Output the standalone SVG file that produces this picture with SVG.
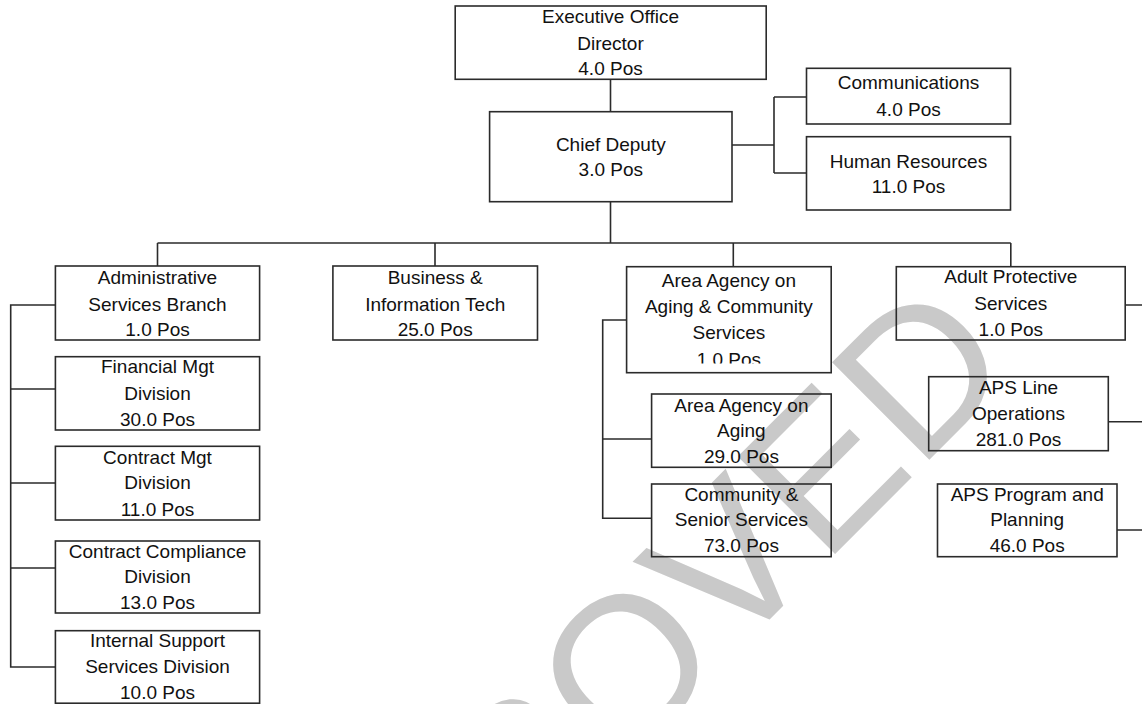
<svg xmlns="http://www.w3.org/2000/svg" width="1142" height="704" viewBox="0 0 1142 704">
<style>
.box{fill:none;stroke:#2b2b2b;stroke-width:1.6}
.ln{fill:none;stroke:#2b2b2b;stroke-width:1.6}
.t{font-family:"Liberation Sans",Arial,sans-serif;font-size:19px;fill:#111;text-anchor:middle}
.wm{font-family:"Liberation Sans",Arial,sans-serif;font-size:200px;fill:#c9c9c9;text-anchor:middle}
</style>
<defs>
<clipPath id="clipAaacs"><rect x="627" y="267" width="204" height="96.5"/></clipPath>
</defs>
<rect width="1142" height="704" fill="#fff"/>
<text class="wm" x="627" y="762" transform="rotate(-45 627 762)">APPROVED</text>

<g id="connectors">
<path class="ln" d="M610.5 79 V112"/>
<path class="ln" d="M732 145 H774 M774 97 V173 M774 97 H806.5 M774 173 H806.5"/>
<path class="ln" d="M610.5 202 V243 M157.5 243 H1010.8 M157.5 243 V266 M435 243 V266 M733.3 243 V267 M1010.8 243 V266"/>
<path class="ln" d="M55.4 305 H10.7 V667 H55.4 M10.7 389 H55.4 M10.7 483 H55.4 M10.7 568 H55.4"/>
<path class="ln" d="M627 320 H602.7 V518.3 H651.6 M602.7 439 H651.6"/>
<path class="ln" d="M1125.2 305 H1142 M1108.3 421.7 H1142 M1117 530 H1142"/>
</g>

<g id="exec"><rect class="box" x="455.2" y="6" width="311" height="73.3"/>
<text class="t" x="610.5" y="23">Executive Office</text><text class="t" x="610.5" y="50">Director</text><text class="t" x="610.5" y="75">4.0 Pos</text></g>

<g id="chief"><rect class="box" x="489.6" y="111.7" width="242.4" height="90"/>
<text class="t" x="610.8" y="150.7">Chief Deputy</text><text class="t" x="610.8" y="176">3.0 Pos</text></g>

<g id="comm"><rect class="box" x="806.5" y="68.3" width="204" height="55.7"/>
<text class="t" x="908.5" y="89.3">Communications</text><text class="t" x="908.5" y="116">4.0 Pos</text></g>

<g id="hr"><rect class="box" x="806.5" y="136.7" width="204" height="73.3"/>
<text class="t" x="908.5" y="167.7">Human Resources</text><text class="t" x="908.5" y="192.7">11.0 Pos</text></g>

<g id="admin"><rect class="box" x="55.4" y="266" width="204.2" height="74"/>
<text class="t" x="157.5" y="284.3">Administrative</text><text class="t" x="157.5" y="310.7">Services Branch</text><text class="t" x="157.5" y="336">1.0 Pos</text></g>

<g id="bit"><rect class="box" x="332.9" y="266" width="204.6" height="74"/>
<text class="t" x="435.2" y="284.3">Business &amp;</text><text class="t" x="435.2" y="310.7">Information Tech</text><text class="t" x="435.2" y="336">25.0 Pos</text></g>

<g id="financial"><rect class="box" x="55.4" y="356.7" width="204.2" height="73.3"/>
<text class="t" x="157.5" y="372.7">Financial Mgt</text><text class="t" x="157.5" y="400">Division</text><text class="t" x="157.5" y="426">30.0 Pos</text></g>

<g id="contractmgt"><rect class="box" x="55.4" y="446.3" width="204.2" height="73.7"/>
<text class="t" x="157.5" y="464.3">Contract Mgt</text><text class="t" x="157.5" y="489.3">Division</text><text class="t" x="157.5" y="516">11.0 Pos</text></g>

<g id="compliance"><rect class="box" x="55.4" y="541" width="204.2" height="72"/>
<text class="t" x="157.5" y="558.3">Contract Compliance</text><text class="t" x="157.5" y="582.7">Division</text><text class="t" x="157.5" y="609">13.0 Pos</text></g>

<g id="internal"><rect class="box" x="55.4" y="630.7" width="204.2" height="72.5"/>
<text class="t" x="157.5" y="647.3">Internal Support</text><text class="t" x="157.5" y="672.7">Services Division</text><text class="t" x="157.5" y="699">10.0 Pos</text></g>

<g id="aaacs"><rect class="box" x="626.6" y="266.7" width="204.6" height="106"/>
<text class="t" x="728.9" y="287.3">Area Agency on</text><text class="t" x="728.9" y="313.3">Aging &amp; Community</text><text class="t" x="728.9" y="339">Services</text><text class="t" x="728.9" y="365.5" clip-path="url(#clipAaacs)">1.0 Pos</text></g>

<g id="aaa"><rect class="box" x="651.6" y="394" width="179.6" height="73.3"/>
<text class="t" x="741.4" y="411.7">Area Agency on</text><text class="t" x="741.4" y="436.7">Aging</text><text class="t" x="741.4" y="462.7">29.0 Pos</text></g>

<g id="css"><rect class="box" x="651.6" y="484" width="179.6" height="72.7"/>
<text class="t" x="741.4" y="500.7">Community &amp;</text><text class="t" x="741.4" y="526">Senior Services</text><text class="t" x="741.4" y="551.7">73.0 Pos</text></g>

<g id="aps"><rect class="box" x="896.3" y="266.7" width="228.9" height="73.3"/>
<text class="t" x="1010.8" y="283.3">Adult Protective</text><text class="t" x="1010.8" y="310">Services</text><text class="t" x="1010.8" y="336">1.0 Pos</text></g>

<g id="apsline"><rect class="box" x="928.7" y="376.7" width="179.6" height="74"/>
<text class="t" x="1018.5" y="394">APS Line</text><text class="t" x="1018.5" y="420">Operations</text><text class="t" x="1018.5" y="446">281.0 Pos</text></g>

<g id="apsprog"><rect class="box" x="937.5" y="484" width="179.5" height="72.7"/>
<text class="t" x="1027.2" y="500.7">APS Program and</text><text class="t" x="1027.2" y="526">Planning</text><text class="t" x="1027.2" y="551.7">46.0 Pos</text></g>
</svg>
